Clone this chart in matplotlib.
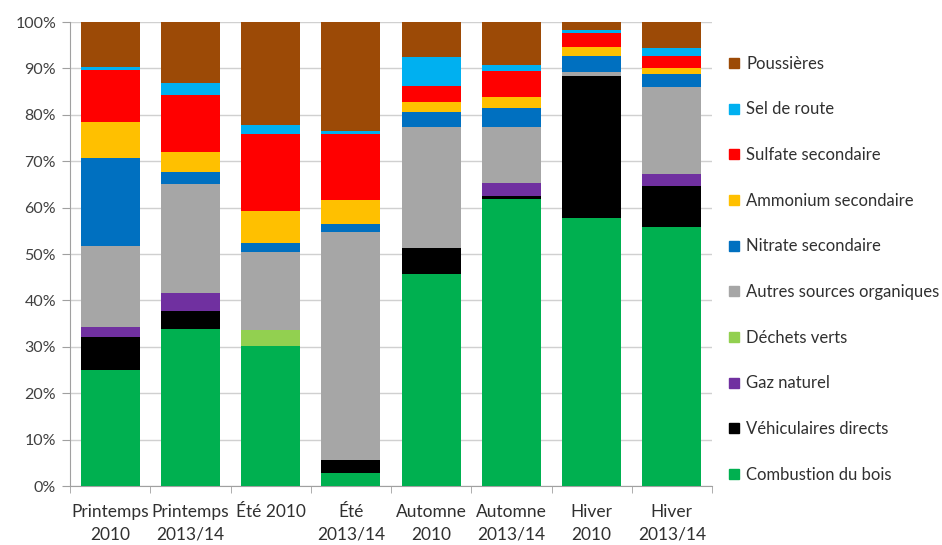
import matplotlib
matplotlib.use("Agg")
import matplotlib.pyplot as plt
from matplotlib.lines import Line2D
import numpy as np

plt.rcParams['font.family'] = ['Lato', 'DejaVu Sans']

categories = ["Printemps\n2010", "Printemps\n2013/14", "Été 2010", "Été\n2013/14",
              "Automne\n2010", "Automne\n2013/14", "Hiver\n2010", "Hiver\n2013/14"]

series_names = ["Combustion du bois", "Véhiculaires directs", "Gaz naturel", "Déchets verts",
                "Autres sources organiques", "Nitrate secondaire", "Ammonium secondaire",
                "Sulfate secondaire", "Sel de route", "Poussières"]

combustion_bois = [25.0, 33.8, 30.2, 2.9, 45.7, 61.8, 57.7, 55.9]
vehiculaires    = [7.2, 4.0, 0.0, 2.7, 5.5, 0.6, 30.7, 8.8]
gaz_naturel     = [2.1, 3.9, 0.0, 0.0, 0.0, 2.8, 0.0, 2.5]
dechets_verts   = [0.0, 0.0, 3.4, 0.0, 0.0, 0.0, 0.0, 0.0]
autres_sources  = [17.4, 23.3, 16.9, 49.2, 26.2, 12.2, 0.9, 18.7]
nitrate         = [18.9, 2.7, 1.9, 1.7, 3.1, 4.0, 3.4, 2.9]
ammonium        = [7.9, 4.3, 6.9, 5.1, 2.2, 2.5, 2.0, 1.2]
sulfate         = [11.2, 12.3, 16.5, 14.2, 3.5, 5.6, 2.9, 2.7]
sel_de_route    = [0.7, 2.5, 2.0, 0.8, 6.2, 1.2, 0.7, 1.8]
poussieres      = [9.6, 13.2, 22.2, 23.4, 7.6, 9.3, 1.7, 5.5]

colors = ["#00B050", "#000000", "#7030A0", "#92D050", "#A6A6A6",
          "#0070C0", "#FFC000", "#FF0000", "#00B0F0", "#9C4A06"]

data = [combustion_bois, vehiculaires, gaz_naturel, dechets_verts, autres_sources,
        nitrate, ammonium, sulfate, sel_de_route, poussieres]

fig = plt.figure(figsize=(9.42, 5.45), dpi=100)
ax = fig.add_axes([70/942, 1 - 486/545, (712-70)/942, (486-22)/545])

x = np.arange(len(categories))
bottom = np.zeros(len(categories))
for vals, col in zip(data, colors):
    v = np.array(vals)
    ax.bar(x, v, bottom=bottom, width=0.735, color=col, edgecolor='none', zorder=3)
    bottom += v

ax.set_xlim(-0.5, len(categories) - 0.5)
ax.set_ylim(0, 100)
yt = np.arange(0, 101, 10)
ax.set_yticks(yt)
ax.set_yticklabels([f"{t}%" for t in yt], fontsize=11.5, color="#404040")
ax.yaxis.grid(True, color="#D0D0D0", linewidth=1, zorder=0)
ax.set_xticks(x)
ax.set_xticklabels(categories, fontsize=12.5, color="#303030", linespacing=1.5)
ax.set_xticks(np.arange(-0.5, len(categories), 1), minor=True)
ax.tick_params(axis='x', which='major', length=0, pad=13)
ax.tick_params(axis='x', which='minor', length=5, color="#A0A0A0", direction='out')
ax.tick_params(axis='y', length=6, color="#A0A0A0", direction='out', pad=4)
for s in ['top', 'right']:
    ax.spines[s].set_visible(False)
ax.spines['left'].set_color("#A0A0A0")
ax.spines['bottom'].set_color("#A0A0A0")

handles = [Line2D([0], [0], marker='s', linestyle='none', markersize=6.5,
                  markerfacecolor=c, markeredgecolor=c) for c in colors]
leg = fig.legend(handles[::-1], series_names[::-1], loc='upper left',
                 bbox_to_anchor=(722/942, 1 - 49/545), frameon=False,
                 fontsize=12, handlelength=0.6, handletextpad=0.45,
                 labelspacing=1.78, borderaxespad=0)
for t in leg.get_texts():
    t.set_color("#303030")

fig.savefig("out.png", dpi=100)
